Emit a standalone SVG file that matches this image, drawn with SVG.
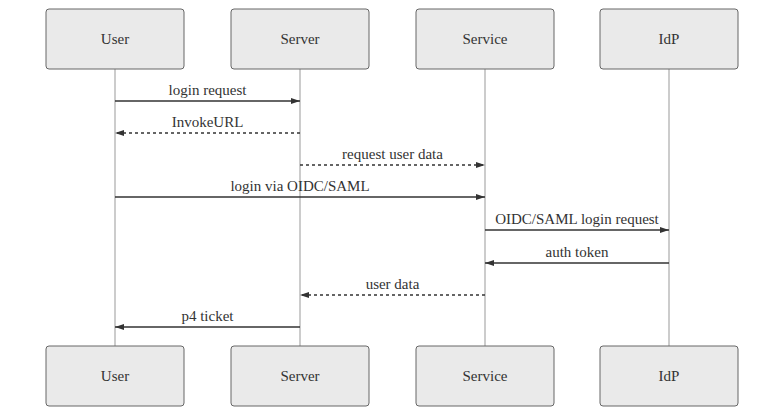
<svg xmlns="http://www.w3.org/2000/svg" width="784" height="407" viewBox="0 0 784 407">
<defs>
<style>
.actor{fill:#eaeaea;stroke:#666;stroke-width:1}
.t{font-family:'Liberation Serif','Times New Roman',serif;font-size:15px;fill:#333;text-anchor:middle}
.life{stroke:#999;stroke-width:1}
.msg{stroke:#333;stroke-width:1.5;fill:none}
.dash{stroke-dasharray:3,3}
</style>
<marker id="ah" viewBox="0 0 9 6" refX="9" refY="3" markerWidth="9" markerHeight="6" markerUnits="userSpaceOnUse" orient="auto">
<path d="M0,0 L9,3 L0,6 z" fill="#333"/>
</marker>
</defs>
<rect width="784" height="407" fill="#fff"/>
<g id="lifelines">
<line class="life" x1="115" y1="69" x2="115" y2="346"/>
<line class="life" x1="300" y1="69" x2="300" y2="346"/>
<line class="life" x1="485" y1="69" x2="485" y2="346"/>
<line class="life" x1="669" y1="69" x2="669" y2="346"/>
</g>
<g id="user-top"><rect class="actor" x="46" y="9" width="138" height="60" rx="3"/><text class="t" x="115" y="44">User</text></g>
<g id="server-top"><rect class="actor" x="231" y="9" width="138" height="60" rx="3"/><text class="t" x="300" y="44">Server</text></g>
<g id="service-top"><rect class="actor" x="416" y="9" width="138" height="60" rx="3"/><text class="t" x="485" y="44">Service</text></g>
<g id="idp-top"><rect class="actor" x="600" y="9" width="138" height="60" rx="3"/><text class="t" x="669" y="44">IdP</text></g>
<g id="user-bottom"><rect class="actor" x="46" y="346" width="138" height="60" rx="3"/><text class="t" x="115" y="381">User</text></g>
<g id="server-bottom"><rect class="actor" x="231" y="346" width="138" height="60" rx="3"/><text class="t" x="300" y="381">Server</text></g>
<g id="service-bottom"><rect class="actor" x="416" y="346" width="138" height="60" rx="3"/><text class="t" x="485" y="381">Service</text></g>
<g id="idp-bottom"><rect class="actor" x="600" y="346" width="138" height="60" rx="3"/><text class="t" x="669" y="381">IdP</text></g>
<g id="connectors">
<line class="msg" x1="115" y1="101" x2="300" y2="101" marker-end="url(#ah)"/>
<text class="t" x="207.5" y="95">login request</text>
<line class="msg dash" x1="300" y1="133" x2="115" y2="133" marker-end="url(#ah)"/>
<text class="t" x="207.5" y="127">InvokeURL</text>
<line class="msg dash" x1="300" y1="165" x2="485" y2="165" marker-end="url(#ah)"/>
<text class="t" x="392.5" y="159">request user data</text>
<line class="msg" x1="115" y1="197" x2="485" y2="197" marker-end="url(#ah)"/>
<text class="t" x="300" y="191">login via OIDC/SAML</text>
<line class="msg" x1="485" y1="230" x2="669" y2="230" marker-end="url(#ah)"/>
<text class="t" x="577" y="224">OIDC/SAML login request</text>
<line class="msg" x1="669" y1="263" x2="485" y2="263" marker-end="url(#ah)"/>
<text class="t" x="577" y="257">auth token</text>
<line class="msg dash" x1="485" y1="295" x2="300" y2="295" marker-end="url(#ah)"/>
<text class="t" x="392.5" y="289">user data</text>
<line class="msg" x1="300" y1="327" x2="115" y2="327" marker-end="url(#ah)"/>
<text class="t" x="207.5" y="321">p4 ticket</text>
</g>
</svg>
